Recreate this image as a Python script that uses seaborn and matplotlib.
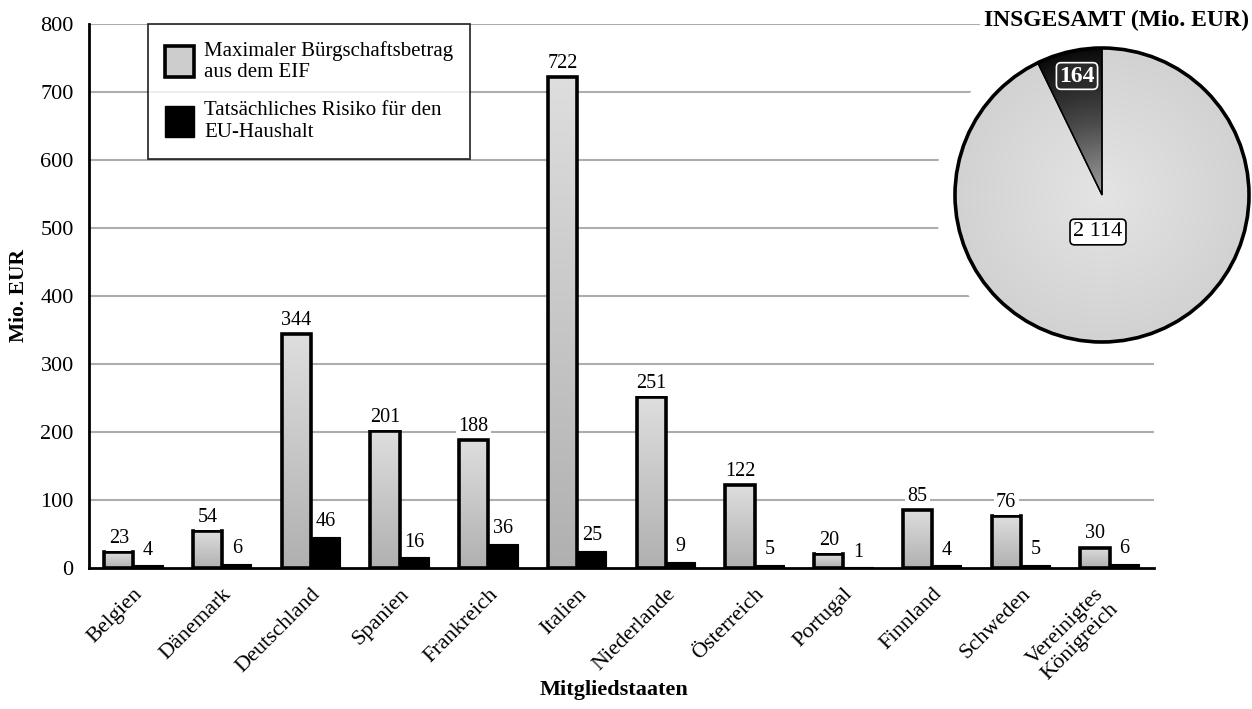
import numpy as np
import pandas as pd
import matplotlib
matplotlib.use("Agg")
import matplotlib.pyplot as plt
from matplotlib.patches import Patch, Circle
from matplotlib.transforms import ScaledTranslation
import matplotlib.colors as mcolors
import seaborn as sns

# ---- data -------------------------------------------------------------
countries = ["Belgien", "Dänemark", "Deutschland", "Spanien", "Frankreich",
             "Italien", "Niederlande", "Österreich", "Portugal", "Finnland",
             "Schweden", "Vereinigtes\nKönigreich"]
max_buergschaft = [23, 54, 344, 201, 188, 722, 251, 122, 20, 85, 76, 30]
risiko_haushalt = [4, 6, 46, 16, 36, 25, 9, 5, 1, 4, 5, 6]
series_names = ["Maximaler Bürgschaftsbetrag\naus dem EIF",
                "Tatsächliches Risiko für den\nEU-Haushalt"]
pie_labels = ["Risiko", "Rest"]
pie_values = [164, 2114]
pie_texts = ["164", "2 114"]
y_ticks = [0, 100, 200, 300, 400, 500, 600, 700, 800]

# ---- style ------------------------------------------------------------
sns.set_theme(style="white")
plt.rcParams["font.family"] = ["Liberation Serif", "DejaVu Serif"]
plt.rcParams["text.color"] = "black"
plt.rcParams["axes.labelcolor"] = "black"
plt.rcParams["xtick.color"] = "black"
plt.rcParams["ytick.color"] = "black"

W, H = 1252, 709
fig = plt.figure(figsize=(W / 100, H / 100), dpi=100)
fig.patch.set_facecolor("white")

# main axes in pixel terms: x 89..1154, y 24..568 (top origin)
ax = fig.add_axes([89 / W, (H - 568) / H, (1154 - 89) / W, (568 - 24) / H])

df = pd.DataFrame({
    "Land": countries * 2,
    "Wert": max_buergschaft + risiko_haushalt,
    "Reihe": [series_names[0]] * len(countries) + [series_names[1]] * len(countries),
})

sns.barplot(data=df, x="Land", y="Wert", hue="Reihe", hue_order=series_names,
            palette=["#cccccc", "#000000"], width=0.66, gap=0,
            saturation=1, legend=False, ax=ax, zorder=3)

n = len(countries)
ax.set_xlim(-0.5, n - 0.5)
ax.set_ylim(0, 800)
ax.set_yticks(y_ticks)
ax.set_yticklabels([str(t) for t in y_ticks], fontsize=16)

# gridlines
for t in y_ticks[1:]:
    ax.axhline(t, color="#adadad", lw=1.5, zorder=0)

# bars: gradient fill for the grey series, solid black for the second
bars = list(ax.patches)
grey_bars = bars[:n]
black_bars = bars[n:2 * n]
grad = np.linspace(0, 1, 256).reshape(-1, 1)
grey_cmap = mcolors.LinearSegmentedColormap.from_list("g", ["#dedede", "#b0b0b0"])
for p in grey_bars:
    x0, y0 = p.get_x(), p.get_y()
    w, h = p.get_width(), p.get_height()
    p.set_facecolor("none")
    p.set_edgecolor("black")
    p.set_linewidth(2.6)
    p.set_zorder(4)
    im = ax.imshow(grad, cmap=grey_cmap, extent=[x0, x0 + w, y0, y0 + h],
                   origin="upper", aspect="auto", zorder=3.5, interpolation="bilinear")
    im.set_clip_path(p)
for p in black_bars:
    p.set_facecolor("black")
    p.set_edgecolor("black")
    p.set_linewidth(0.8)
    p.set_zorder(4)

ax.set_xlim(-0.5, n - 0.5)
ax.set_ylim(0, 800)

# value labels above each bar
lbl_box = dict(boxstyle="square,pad=0.12", fc="white", ec="none")
for p, v in zip(grey_bars, max_buergschaft):
    ax.annotate(str(v), (p.get_x() + p.get_width() / 2, v), xytext=(0, 3),
                textcoords="offset points", ha="center", va="bottom",
                fontsize=14.5, bbox=lbl_box, zorder=6)
for p, v in zip(black_bars, risiko_haushalt):
    ax.annotate(str(v), (p.get_x() + p.get_width() / 2, v), xytext=(0, 4),
                textcoords="offset points", ha="center", va="bottom",
                fontsize=14.5, bbox=lbl_box, zorder=6)

# axes lines and ticks
for s in ["top", "right"]:
    ax.spines[s].set_visible(False)
for s in ["left", "bottom"]:
    ax.spines[s].set_color("black")
    ax.spines[s].set_linewidth(2)
    ax.spines[s].set_zorder(5)
ax.tick_params(axis="y", length=8, width=1.5, direction="out", pad=3)
ax.set_xticks(range(n))
ax.set_xticklabels(countries, rotation=45, ha="right", rotation_mode="anchor",
                   fontsize=16, multialignment="center")
ax.tick_params(axis="x", length=0, pad=12)
ax.set_xticks(np.arange(-0.5, n, 1.0), minor=True)
ax.tick_params(axis="x", which="minor", length=8, width=1.5, direction="out")
ax.set_xlabel("")
ax.set_ylabel("")
ax.grid(False)

# the two-line label sits a little further left
last_lbl = ax.get_xticklabels()[-1]
last_lbl.set_transform(last_lbl.get_transform()
                       + ScaledTranslation(-0.16, 0, fig.dpi_scale_trans))

# axis titles
fig.text(614 / W, 1 - 690 / H, "Mitgliedstaaten", ha="center", va="center",
         fontsize=16, fontweight="bold")
fig.text(19 / W, 1 - 295 / H, "Mio. EUR", ha="center", va="center",
         rotation=90, fontsize=15.5, fontweight="bold")

# legend
handles = [Patch(facecolor="#cdcdcd", edgecolor="black", linewidth=2.6, label=series_names[0]),
           Patch(facecolor="black", edgecolor="black", linewidth=1, label=series_names[1])]
leg = ax.legend(handles=handles, loc="upper left",
                bbox_to_anchor=((148 - 89) / (1154 - 89), 1.0), borderaxespad=0,
                fontsize=15, handlelength=1.4, handleheight=1.9, handletextpad=0.5,
                labelspacing=0.9, borderpad=0.8, fancybox=False, frameon=True)
leg.get_frame().set_edgecolor("black")
leg.get_frame().set_linewidth(1.3)
leg.set_zorder(7)

# ---- pie --------------------------------------------------------------
cx, cy, r = 1102, 195, 147
half = 149
pax = fig.add_axes([(cx - half) / W, (H - cy - half) / H, 2 * half / W, 2 * half / H])
pax.set_xlim(-half / r, half / r)
pax.set_ylim(-half / r, half / r)
pax.set_aspect("equal")
pax.axis("off")

# white surround hiding the gridlines behind the pie
pax.add_patch(Circle((0, 0), 167 / r, facecolor="white", edgecolor="none",
                     clip_on=False, zorder=0))

wedges, _ = pax.pie(pie_values, startangle=90, counterclock=True, radius=1,
                    colors=["#444444", "#d6d6d6"],
                    wedgeprops=dict(edgecolor="black", linewidth=1.0))
pax.set_xlim(-half / r, half / r)
pax.set_ylim(-half / r, half / r)

gx = np.linspace(-1, 1, 400)
GX, GY = np.meshgrid(gx, gx)
RR = np.clip(np.sqrt(GX ** 2 + GY ** 2), 0, 1)
light_cmap = mcolors.LinearSegmentedColormap.from_list("l", ["#e4e4e4", "#d2d2d2"])
dark_cmap = mcolors.LinearSegmentedColormap.from_list("d", ["#a0a0a0", "#4a4a4a", "#0a0a0a"])
for wdg, cmap in zip(wedges, [dark_cmap, light_cmap]):
    wdg.set_facecolor("none")
    wdg.set_zorder(3)
    im = pax.imshow(RR, cmap=cmap, vmin=0, vmax=1, extent=[-1, 1, -1, 1],
                    origin="lower", zorder=2, interpolation="bilinear")
    im.set_clip_path(wdg)
pax.add_patch(Circle((0, 0), 1, facecolor="none", edgecolor="black", lw=2.6, zorder=4))
pax.set_xlim(-half / r, half / r)
pax.set_ylim(-half / r, half / r)

pax.text((1077 - cx) / r, (cy - 76) / r, pie_texts[0], ha="center", va="center",
         color="white", fontsize=17, fontweight="bold", zorder=6,
         bbox=dict(boxstyle="round,pad=0.12,rounding_size=0.2", fc="#2a2a2a", ec="white", lw=1.2))
pax.text((1098 - cx) / r, (cy - 232) / r, pie_texts[1], ha="center", va="center",
         color="black", fontsize=16, zorder=6,
         bbox=dict(boxstyle="round,pad=0.15,rounding_size=0.2", fc="white", ec="black", lw=1.2))

fig.text(1249 / W, 1 - 20 / H, "INSGESAMT (Mio. EUR)", ha="right", va="center",
         fontsize=17, fontweight="bold",
         bbox=dict(boxstyle="square,pad=0.15", fc="white", ec="none"), zorder=10)

fig.savefig("out.png", dpi=100, facecolor="white")
